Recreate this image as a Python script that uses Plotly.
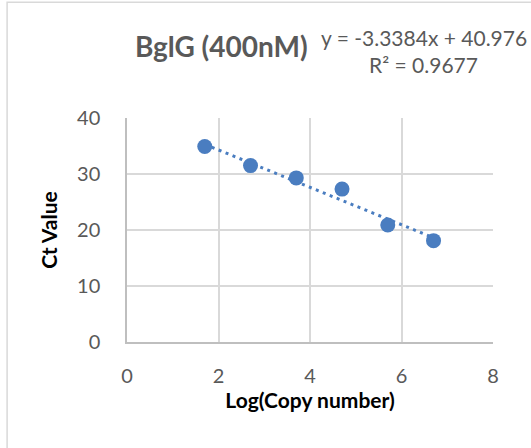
import plotly.graph_objects as go

log_copy = [1.7, 2.7, 3.7, 4.7, 5.7, 6.7]
ct_value = [34.9, 31.5, 29.3, 27.3, 20.9, 18.1]
slope = -3.3384
intercept = 40.976
r_squared = 0.9677
x_ticks = [0, 2, 4, 6, 8]
y_ticks = [0, 10, 20, 30, 40]

blue = "#4a7dc0"
fnt = "Lato"

W, H = 531, 448
L, R, T, B = 127.3, 38, 118.4, 106.3
PW, PH = W - L - R, H - T - B


def px(x):
    return (x - L) / PW


def py(y):
    return (H - B - y) / PH


trend_x = [min(log_copy), max(log_copy)]
trend_y = [slope * v + intercept for v in trend_x]

fig = go.Figure()
fig.add_trace(go.Scatter(x=trend_x, y=trend_y, mode="lines",
                         line=dict(color=blue, width=3, dash="3px,4.5px"),
                         hoverinfo="skip", showlegend=False))
fig.add_trace(go.Scatter(x=log_copy, y=ct_value, mode="markers",
                         marker=dict(color=blue, size=15),
                         showlegend=False))

fig.update_layout(
    width=W, height=H,
    margin=dict(l=L, r=R, t=T, b=B, pad=0),
    paper_bgcolor="white", plot_bgcolor="white",
    font=dict(family=fnt, color="#595959", size=20),
    xaxis=dict(range=[0, 8], tickvals=x_ticks, showgrid=True,
               gridcolor="#d9d9d9", gridwidth=1.5, zeroline=False,
               showline=True, linecolor="#bfbfbf", linewidth=1.5,
               ticklabelstandoff=15,
               title=dict(text="<b>Log(Copy number)</b>", standoff=3,
                          font=dict(family=fnt, size=21, color="black"))),
    yaxis=dict(range=[0, 40], tickvals=y_ticks, showgrid=True,
               gridcolor="#d9d9d9", gridwidth=1.5, zeroline=False,
               showline=True, linecolor="#bfbfbf", linewidth=1.5,
               ticklabelstandoff=21,
               title=dict(text="<b>Ct Value</b>", standoff=14,
                          font=dict(family=fnt, size=21, color="black"))),
)

# outer chart border
fig.add_shape(type="rect", xref="paper", yref="paper",
              x0=px(7.5), x1=px(560), y0=py(470), y1=py(3),
              line=dict(color="#d9d9d9", width=1.5), fillcolor="rgba(0,0,0,0)",
              layer="below")

fig.add_annotation(text="<b>BglG (400nM)</b>", xref="paper", yref="paper",
                   x=px(222), y=py(47), showarrow=False,
                   xanchor="center", yanchor="middle",
                   font=dict(family=fnt, size=28, color="#595959"))
fig.add_annotation(text=f"y = {slope}x + {intercept}", xref="paper", yref="paper",
                   x=px(424), y=py(38), showarrow=False,
                   xanchor="center", yanchor="middle",
                   font=dict(family=fnt, size=21, color="#595959"))
fig.add_annotation(text=f"R² = {r_squared}", xref="paper", yref="paper",
                   x=px(424), y=py(65), showarrow=False,
                   xanchor="center", yanchor="middle",
                   font=dict(family=fnt, size=21, color="#595959"))

fig.write_html("out.html", config={"displayModeBar": False},
               post_script="document.body.style.margin='0';")
